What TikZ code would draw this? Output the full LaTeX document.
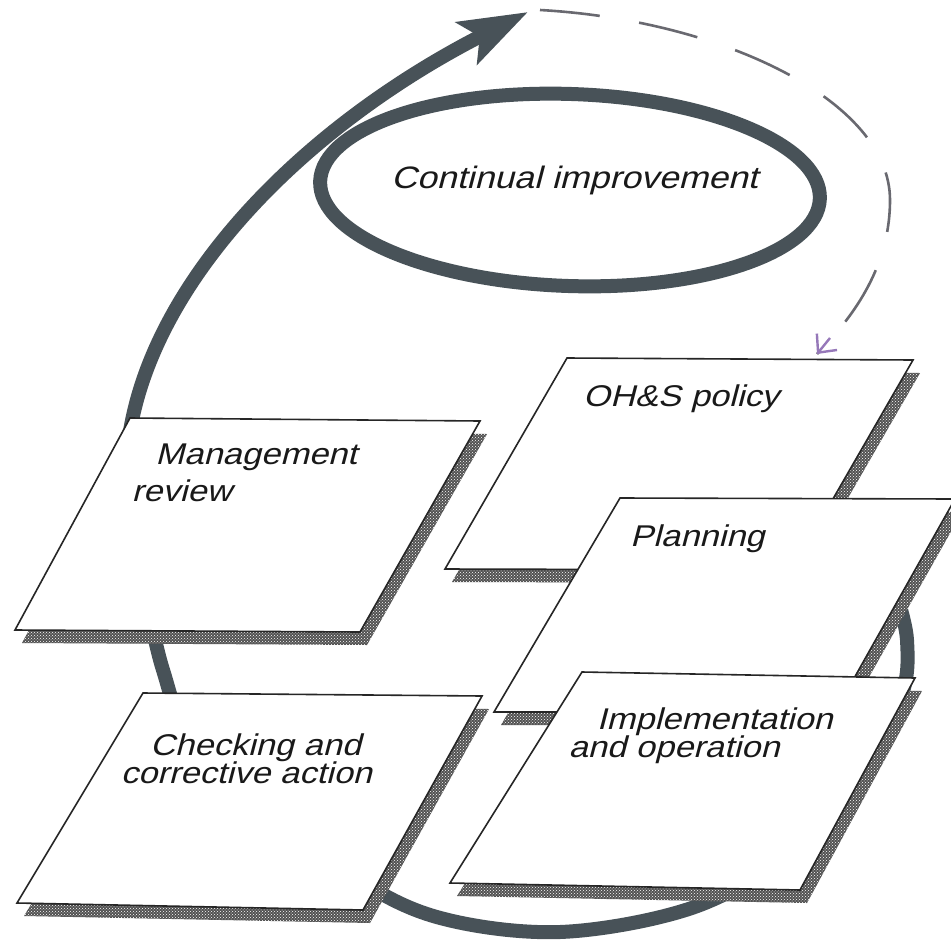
\documentclass[tikz,border=0pt]{standalone}
\usepackage{fontspec}
\newfontfamily\diagfont[FakeStretch=1.15]{Liberation Sans}
\usetikzlibrary{arrows.meta,patterns,shapes.geometric}
\definecolor{loopgray}{RGB}{72,82,88}
\definecolor{dashgray}{RGB}{105,105,112}
\definecolor{tipviolet}{RGB}{150,120,185}
\tikzset{
  loopline/.style={draw=loopgray, line width=14pt, line cap=butt},
  cardface/.style={fill=white, draw=black!85, line width=1.6pt, line join=miter},
  cardshade/.style={fill=black!68},
  cardspeck/.style={pattern=crosshatch dots, pattern color=white},
  slanttext/.style={xslant=0.26, transform shape},
  cardtext/.style={font=\diagfont\fontsize{30}{30}\selectfont, text=black!90, align=left, inner sep=0pt, anchor=west, slanttext},
  looptext/.style={font=\diagfont\fontsize{31}{36}\selectfont, text=black!90, inner sep=0pt, anchor=west, slanttext},
  dashline/.style={draw=dashgray, line width=2.6pt, dash pattern=on 60pt off 40pt}
}
\newcommand{\mycard}[4]{%
  \path[cardshade] ([shift={(7,13)}]#1) -- ([shift={(7,13)}]#2) -- ([shift={(7,13)}]#3) -- ([shift={(7,13)}]#4) -- cycle;
  \path[cardspeck] ([shift={(7,13)}]#1) -- ([shift={(7,13)}]#2) -- ([shift={(7,13)}]#3) -- ([shift={(7,13)}]#4) -- cycle;
  \path[cardface] (#1) -- (#2) -- (#3) -- (#4) -- cycle;
}
\begin{document}
\begin{tikzpicture}[x=1pt,y=-1pt]
\useasboundingbox (0,0) rectangle (951,940);
\fill[white] (0,0) rectangle (951,940);

% corner coordinates of the five cards
\coordinate (mTL) at (130,418); \coordinate (mTR) at (480,421);
\coordinate (mBR) at (360,632); \coordinate (mBL) at (15,630);
\coordinate (pTL) at (567,358); \coordinate (pTR) at (913,360);
\coordinate (pBR) at (792,570); \coordinate (pBL) at (445,569);
\coordinate (lTL) at (620,498); \coordinate (lTR) at (955,499);
\coordinate (lBR) at (835,712); \coordinate (lBL) at (494,712);
\coordinate (iTL) at (582,672); \coordinate (iTR) at (915,678);
\coordinate (iBR) at (800,890); \coordinate (iBL) at (450,883);
\coordinate (cTL) at (143,693); \coordinate (cTR) at (482,696);
\coordinate (cBR) at (363,910); \coordinate (cBL) at (17,903);

% the big cycle arrow (behind the cards)
\coordinate (looplow) at (127,455);
\coordinate (tip) at (528,12);
\draw[loopline, -{Stealth[length=68pt,width=46pt,inset=14pt]}]
  plot[smooth, tension=0.55] coordinates {(885,560) (907,640) (893,715) (800,840) (700,905) (560,932) (430,915) (330,860) (200,750) (163,670) (140,560) (127,455)}
  .. controls (141,290) and (300,128) .. (tip);

% continual improvement ring
\node[draw=loopgray, line width=14pt, ellipse, minimum width=500pt, minimum height=192pt, rotate=-2, inner sep=0pt] (ring) at (570,190) {};
\node[looptext] (cilabel) at (393,180) {Continual improvement};

% dashed return arrow to the policy card
\coordinate (dstart) at (540,10);
\coordinate (dmid) at (890,200);
\coordinate (dend) at (817,354);
\draw[dashline] (dstart) .. controls (720,20) and (890,100) .. (dmid)
   .. controls (890,270) and (850,320) .. (dend);
\draw[draw=tipviolet, line width=2.4pt, -{Straight Barb[length=14pt,width=26pt,color=tipviolet]}] (830,338) -- (dend);

% cards
\mycard{mTL}{mTR}{mBR}{mBL}
\mycard{pTL}{pTR}{pBR}{pBL}
\mycard{lTL}{lTR}{lBR}{lBL}
\mycard{iTL}{iTR}{iBR}{iBL}
\mycard{cTL}{cTR}{cBR}{cBL}

% labels
\node[cardtext] (mrev) at (139,473) {\hspace*{14pt}Management\\[7pt]review};
\node[cardtext] (pol) at (585,399) {OH\&S policy};
\node[cardtext] (plan) at (632,539) {Planning};
\node[cardtext] (impl) at (574,736) {\hspace*{21pt}Implementation\\[-2pt]and operation};
\node[cardtext] (chk) at (127,759) {\hspace*{22pt}Checking and\\[-2pt]corrective action};
\end{tikzpicture}
\end{document}
